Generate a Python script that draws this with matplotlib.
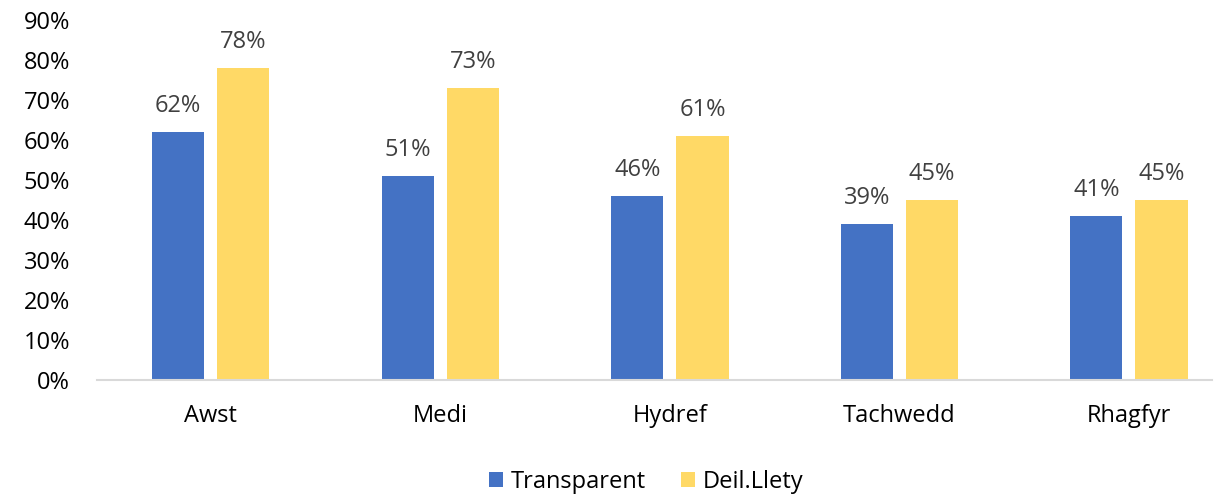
import matplotlib.pyplot as plt
import numpy as np

months = ["Awst", "Medi", "Hydref", "Tachwedd", "Rhagfyr"]
transparent = [62, 51, 46, 39, 41]
deil_llety = [78, 73, 61, 45, 45]

plt.rcParams['font.family'] = ['Open Sans', 'DejaVu Sans']

fig = plt.figure(figsize=(12.26, 4.96), dpi=100)
ax = fig.add_axes([0.0791, 0.2339, 0.9095, 0.7258])

x = np.arange(len(months))
w = 0.227
off = 0.142
b1 = ax.bar(x - off, transparent, w, color="#4472C4", label="Transparent")
b2 = ax.bar(x + off, deil_llety, w, color="#FFD966", label="Deil.Llety")

for bars, vals in ((b1, transparent), (b2, deil_llety)):
    for b, v in zip(bars, vals):
        ax.text(b.get_x() + b.get_width() / 2, v + 3.6, f"{v}%",
                ha="center", va="bottom", fontsize=17, color="#404040")

ax.set_xlim(-0.496, 4.362)
ax.set_ylim(0, 90)
ax.set_yticks(range(0, 91, 10))
ax.set_yticklabels([f"{t}%" for t in range(0, 91, 10)])
ax.set_xticks(x)
ax.set_xticklabels(months)
ax.tick_params(axis="both", length=0, labelsize=17, colors="#000000")
ax.tick_params(axis="x", pad=17)
ax.tick_params(axis="y", pad=19.5)

for s in ["top", "right", "left"]:
    ax.spines[s].set_visible(False)
ax.spines["bottom"].set_color("#D9D9D9")
ax.spines["bottom"].set_linewidth(1.5)

fig.legend(handles=[b1, b2], loc="center", bbox_to_anchor=(0.527, 0.028),
           ncol=2, frameon=False, fontsize=17, handlelength=0.6,
           handleheight=0.6, handletextpad=0.3, columnspacing=1.5)

fig.savefig("out.png", dpi=100)
